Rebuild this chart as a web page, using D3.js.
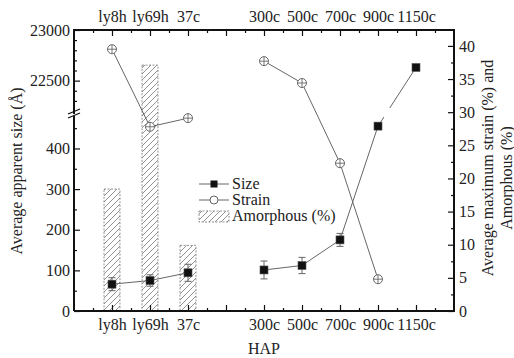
<!DOCTYPE html>
<html>
<head>
<meta charset="utf-8">
<script src="https://cdn.jsdelivr.net/npm/d3@7"></script>
<style>
  body { margin: 0; background: #fff; }
</style>
</head>
<body>
<div id="chart"></div>
<script>
// HAP: apparent size (broken left axis), strain and amorphous fraction (right axis)
const categories = ["ly8h", "ly69h", "37c", "", "300c", "500c", "700c", "900c", "1150c"];
const sizeVals   = [66, 75, 94, null, 101, 112, 175, 455, 22630];
const sizeErr    = [16, 14, 21, null, 22, 20, 16, 0, 0];
const strainVals = [39.5, 27.8, 29.1, null, 37.7, 34.4, 22.3, 4.8, null];
const amorphVals = [18.4, 37.1, 9.9, null, null, null, null, null, null];

const W = 514, H = 358;
const plot = { left: 74, right: 454, top: 30, bottom: 311 };
const FONT = '"Liberation Serif"';

const svg = d3.select('#chart').append('svg')
    .attr('width', W).attr('height', H);

const x = d3.scaleLinear().domain([0, categories.length + 1]).range([plot.left, plot.right]);
const xc = i => x(i + 1);

// broken left axis: two linear pieces
const yLow = d3.scaleLinear().domain([0, 475]).range([plot.bottom, 118]);
const yHigh = d3.scaleLinear().domain([22210, 23000]).range([110, plot.top]);
const yL = v => v < 1000 ? yLow(v) : yHigh(v);
const yR = d3.scaleLinear().domain([0, 42.4]).range([plot.bottom, plot.top]);

const grey = '#666';

// hatch pattern for amorphous bars
const defs = svg.append('defs');
defs.append('pattern')
    .attr('id', 'hatch').attr('patternUnits', 'userSpaceOnUse')
    .attr('width', 6).attr('height', 6)
    .append('path')
    .attr('d', 'M-1,1 l2,-2 M0,6 l6,-6 M5,7 l2,-2')
    .attr('stroke', '#777').attr('stroke-width', 0.8);

defs.append('clipPath').attr('id', 'clipLow').append('rect')
    .attr('x', 0).attr('y', 117).attr('width', W).attr('height', H);
defs.append('clipPath').attr('id', 'clipHigh').append('rect')
    .attr('x', 0).attr('y', 0).attr('width', W).attr('height', 108);

// bars
const barIdx = amorphVals.map((v, i) => i).filter(i => amorphVals[i] != null);
const barHalf = (x(0.42) - x(0)) / 2;
svg.append('g').selectAll('rect').data(barIdx).join('rect')
    .attr('x', i => xc(i) - barHalf)
    .attr('width', barHalf * 2)
    .attr('y', i => yR(amorphVals[i]))
    .attr('height', i => yR(0) - yR(amorphVals[i]))
    .attr('fill', 'url(#hatch)')
    .attr('stroke', '#777').attr('stroke-width', 0.8)
    .attr('stroke-dasharray', '2,1.5');

// strain
const strainPts = strainVals.map((v, i) => ({ i, v })).filter(d => d.v != null);
const strainLine = d3.line().x(d => xc(d.i)).y(d => yR(d.v));
svg.append('path').datum(strainPts.filter(d => d.i < 3))
    .attr('d', strainLine).attr('fill', 'none').attr('stroke', grey).attr('stroke-width', 1);
svg.append('path').datum(strainPts.filter(d => d.i > 3))
    .attr('d', strainLine).attr('fill', 'none').attr('stroke', grey).attr('stroke-width', 1);

const sg = svg.append('g').selectAll('g').data(strainPts).join('g')
    .attr('transform', d => `translate(${xc(d.i)},${yR(d.v)})`);
sg.append('circle').attr('r', 4.5).attr('fill', '#fff').attr('stroke', grey).attr('stroke-width', 1);
sg.append('path').attr('d', 'M-4.5,0 H4.5 M0,-4.5 V4.5').attr('stroke', grey).attr('stroke-width', 0.9);

// size
const sizePts = sizeVals.map((v, i) => ({ i, v, e: sizeErr[i] })).filter(d => d.v != null);
const sizeLine = d3.line().x(d => xc(d.i)).y(d => yL(d.v));
svg.append('path').datum(sizePts.filter(d => d.i < 3))
    .attr('d', sizeLine).attr('fill', 'none').attr('stroke', grey).attr('stroke-width', 1);
['clipLow', 'clipHigh'].forEach(c => {
    svg.append('path').datum(sizePts.filter(d => d.i > 3))
        .attr('clip-path', `url(#${c})`)
        .attr('d', sizeLine).attr('fill', 'none').attr('stroke', grey).attr('stroke-width', 1);
});

const eg = svg.append('g').selectAll('g').data(sizePts.filter(d => d.e > 0)).join('g');
eg.append('path')
    .attr('d', d => {
        const cx = xc(d.i), t = yL(d.v + d.e), b = yL(d.v - d.e);
        return `M${cx},${t} V${b} M${cx - 3.5},${t} H${cx + 3.5} M${cx - 3.5},${b} H${cx + 3.5}`;
    })
    .attr('stroke', grey).attr('stroke-width', 1).attr('fill', 'none');

svg.append('g').selectAll('rect').data(sizePts).join('rect')
    .attr('x', d => xc(d.i) - 4).attr('y', d => yL(d.v) - 4)
    .attr('width', 8).attr('height', 8)
    .attr('fill', '#111').attr('stroke', '#555').attr('stroke-width', 0.6);

// axes
const fmtCat = v => categories[v - 1] || '';
function styleAxis(g) {
    g.attr('font-family', null).attr('font-size', null);
    g.select('.domain').remove();
    g.selectAll('.tick line').attr('stroke', '#111').attr('stroke-width', 1.2);
    g.selectAll('.tick text').attr('font-size', 16).attr('fill', '#222');
}
const majorX = categories.map((c, i) => i + 1);
const minorX = d3.range(0.5, categories.length + 1, 1);

svg.append('g').attr('transform', `translate(0,${plot.bottom})`)
    .call(d3.axisBottom(x).tickValues(majorX).tickFormat(fmtCat).tickSizeInner(-6).tickSizeOuter(0).tickPadding(8))
    .call(styleAxis);
svg.append('g').attr('transform', `translate(0,${plot.bottom})`)
    .call(d3.axisBottom(x).tickValues(minorX).tickFormat('').tickSizeInner(-3).tickSizeOuter(0))
    .call(styleAxis);
svg.append('g').attr('transform', `translate(0,${plot.top})`)
    .call(d3.axisTop(x).tickValues(majorX).tickFormat(fmtCat).tickSizeInner(-6).tickSizeOuter(0).tickPadding(8))
    .call(styleAxis);
svg.append('g').attr('transform', `translate(0,${plot.top})`)
    .call(d3.axisTop(x).tickValues(minorX).tickFormat('').tickSizeInner(-3).tickSizeOuter(0))
    .call(styleAxis);

// left axis, lower piece
svg.append('g').attr('transform', `translate(${plot.left},0)`)
    .call(d3.axisLeft(yLow).tickValues(d3.range(0, 401, 100)).tickSizeInner(-6).tickSizeOuter(0).tickPadding(4))
    .call(styleAxis);
svg.append('g').attr('transform', `translate(${plot.left},0)`)
    .call(d3.axisLeft(yLow).tickValues(d3.range(50, 451, 100)).tickFormat('').tickSizeInner(-3).tickSizeOuter(0))
    .call(styleAxis);
// left axis, upper piece
svg.append('g').attr('transform', `translate(${plot.left},0)`)
    .call(d3.axisLeft(yHigh).tickValues([22500, 23000]).tickFormat(d3.format('d')).tickSizeInner(-6).tickSizeOuter(0).tickPadding(4))
    .call(styleAxis);
svg.append('g').attr('transform', `translate(${plot.left},0)`)
    .call(d3.axisLeft(yHigh).tickValues([22300, 22400, 22600, 22700, 22800, 22900]).tickFormat('').tickSizeInner(-3).tickSizeOuter(0))
    .call(styleAxis);

// right axis
svg.append('g').attr('transform', `translate(${plot.right},0)`)
    .call(d3.axisRight(yR).tickValues(d3.range(0, 41, 5)).tickSizeInner(-6).tickSizeOuter(0).tickPadding(5))
    .call(styleAxis);
svg.append('g').attr('transform', `translate(${plot.right},0)`)
    .call(d3.axisRight(yR).tickValues(d3.range(2.5, 41, 5)).tickFormat('').tickSizeInner(-3).tickSizeOuter(0))
    .call(styleAxis);

// frame lines (left axis broken)
const frame = svg.append('g').attr('stroke', '#111').attr('stroke-width', 2).attr('fill', 'none');
frame.append('path').attr('d',
    `M${plot.left},${plot.bottom} H${plot.right} V${plot.top} H${plot.left} V${yHigh.range()[0] + 4}` +
    ` M${plot.left},${yLow.range()[1] - 2} V${plot.bottom}`);
frame.append('path').attr('stroke-width', 1.3)
    .attr('d', `M${plot.left - 6},${yLow.range()[1] - 4} l12,-5 M${plot.left - 6},${yLow.range()[1]} l12,-5`);

// titles
svg.append('text').attr('transform', `translate(16,171) rotate(-90)`)
    .attr('text-anchor', 'middle').attr('dy', '0.35em').attr('font-size', 16)
    .text('Average apparent size (Å)');
svg.append('text').attr('transform', `translate(487,168) rotate(-90)`)
    .attr('text-anchor', 'middle').attr('dy', '0.35em').attr('font-size', 16)
    .text('Average maximum strain (%) and');
svg.append('text').attr('transform', `translate(506,178) rotate(-90)`)
    .attr('text-anchor', 'middle').attr('dy', '0.35em').attr('font-size', 16)
    .text('Amorphous (%)');
svg.append('text').attr('x', (plot.left + plot.right) / 2).attr('y', 354)
    .attr('text-anchor', 'middle').attr('font-size', 16).text('HAP');

// legend
const lg = svg.append('g').attr('transform', 'translate(199,184)');
lg.append('line').attr('x1', 0).attr('x2', 30).attr('stroke', grey);
lg.append('rect').attr('x', 11.5).attr('y', -3.5).attr('width', 7).attr('height', 7).attr('fill', '#111');
lg.append('text').attr('x', 33).attr('dy', '0.33em').attr('font-size', 16).text('Size');
lg.append('line').attr('x1', 0).attr('x2', 30).attr('y1', 16).attr('y2', 16).attr('stroke', grey);
lg.append('circle').attr('cx', 15).attr('cy', 16).attr('r', 4).attr('fill', '#fff').attr('stroke', grey);
lg.append('text').attr('x', 33).attr('y', 16).attr('dy', '0.33em').attr('font-size', 16).text('Strain');
lg.append('rect').attr('x', 0).attr('y', 27).attr('width', 30).attr('height', 11)
    .attr('fill', 'url(#hatch)').attr('stroke', '#777').attr('stroke-width', 0.8).attr('stroke-dasharray', '2,1.5');
lg.append('text').attr('x', 33).attr('y', 32).attr('dy', '0.33em').attr('font-size', 16).text('Amorphous (%)');

svg.selectAll('text').style('font-family', FONT).attr('fill', '#222');
</script>
</body>
</html>
